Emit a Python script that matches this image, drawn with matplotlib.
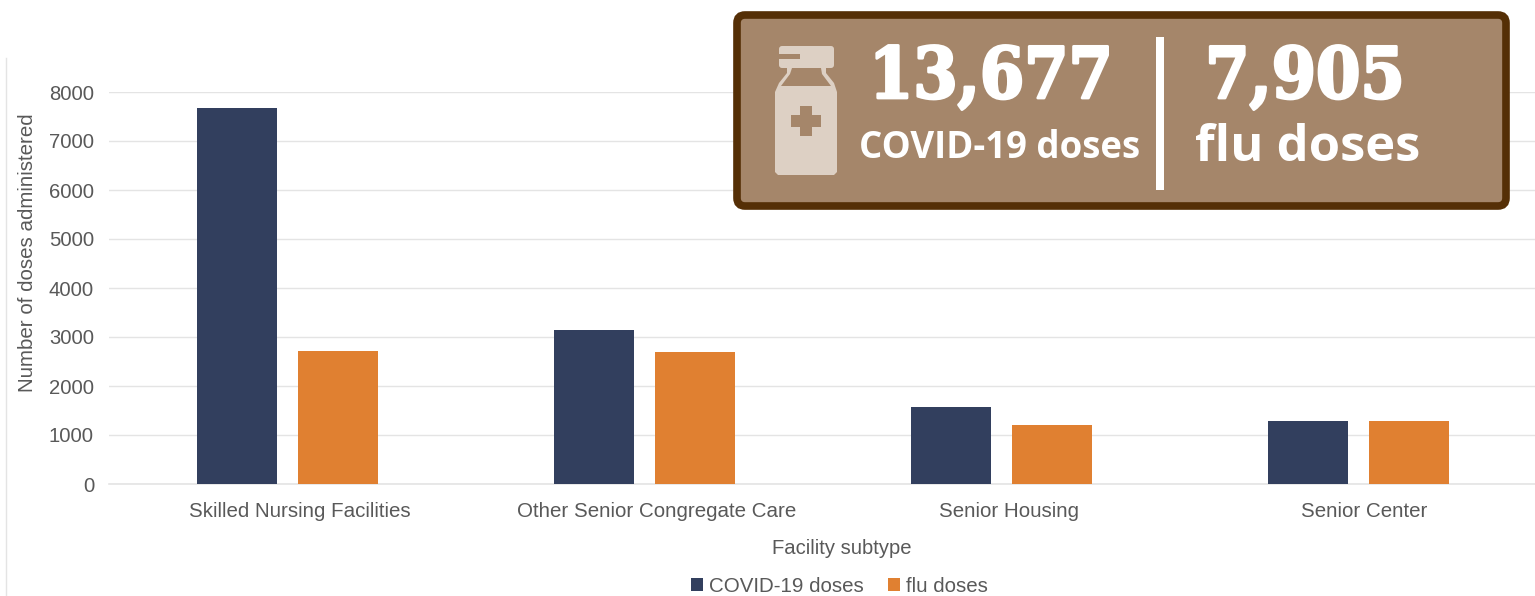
import matplotlib
matplotlib.use("Agg")
import matplotlib.pyplot as plt
import matplotlib.patheffects as pe
import numpy as np
from matplotlib.patches import FancyBboxPatch, Polygon, Rectangle

# data
categories = ["Skilled Nursing Facilities", "Other Senior Congregate Care", "Senior Housing", "Senior Center"]
covid_doses = [7675, 3143, 1570, 1289]
flu_doses = [2714, 2694, 1204, 1293]
y_ticks = [0, 1000, 2000, 3000, 4000, 5000, 6000, 7000, 8000]
covid_total = "13,677"
flu_total = "7,905"

W, H = 1535, 596
grey = "#595959"
navy = "#323F5E"
orange = "#E08031"
plt.rcParams["font.family"] = ["Liberation Sans", "DejaVu Sans"]

fig = plt.figure(figsize=(W / 100, H / 100), dpi=100)
ax = fig.add_axes([109 / W, 1 - 484 / H, (W - 109) / W, (484 - 92) / H])

x = np.arange(len(categories))
step = 357
barwidth = 80 / step
gap = 101.5 / step
ax.bar(x - gap / 2, covid_doses, barwidth, color=navy, label="COVID-19 doses", zorder=3)
ax.bar(x + gap / 2, flu_doses, barwidth, color=orange, label="flu doses", zorder=3)

ax.set_xlim(-0.5, (W - 109) / step - 0.5)
ax.set_ylim(0, 8000)
ax.set_yticks(y_ticks)
# the labels in the original sit a bit right of the bar pairs
ax.set_xticks(x + np.array([0.034, 0.035, 0.021, 0.017]))
ax.set_xticklabels(categories)
ax.tick_params(axis="x", length=0, pad=13, labelsize=14.8, colors=grey)
ax.tick_params(axis="y", length=0, pad=10.8, labelsize=14.6, colors=grey)
ax.grid(axis="y", color="#E4E4E4", lw=1, zorder=0)
for s in ax.spines.values():
    s.set_visible(False)
ax.spines["bottom"].set_visible(True)
ax.spines["bottom"].set_color("#E4E4E4")
ax.spines["bottom"].set_linewidth(1.2)
ax.set_axisbelow(True)

fig.text(28 / W, 1 - 253 / H, "Number of doses administered", rotation=90, ha="center", va="center",
         fontsize=14.8, color=grey)
fig.text(842 / W, 1 - 549 / H, "Facility subtype", ha="center", va="center", fontsize=14.6, color=grey)

ax.legend(loc="center", bbox_to_anchor=(839.5 / W, 1 - 586 / H), bbox_transform=fig.transFigure, ncol=2,
          frameon=False, fontsize=14.8, labelcolor=grey, handlelength=0.58, handleheight=0.58,
          handletextpad=0.3, columnspacing=1.17)

# callout drawn in pixel coordinates
ov = fig.add_axes([0, 0, 1, 1])
ov.set_xlim(0, W)
ov.set_ylim(H, 0)
ov.axis("off")
ov.patch.set_alpha(0)

ov.plot([6, 6], [58, 596], color="#E4E4E4", lw=1)
ov.add_patch(FancyBboxPatch((737, 15), 769, 191, boxstyle="round,pad=0,rounding_size=8",
                            fc="#A5866A", ec="#552F06", lw=5.5))

vial = "#DDD0C4"
brown = "#A5866A"
ov.add_patch(FancyBboxPatch((779, 46), 55, 22, boxstyle="round,pad=0,rounding_size=3", fc=vial, ec="none"))
ov.add_patch(Rectangle((779, 54), 21, 5, fc=brown, ec="none"))
ov.add_patch(Polygon([(787, 66), (826, 66), (826, 73), (834, 83), (837, 92), (837, 172), (834, 175), (778, 175),
                      (775, 172), (775, 92), (779, 83), (787, 73)], fc=vial, ec="none"))
ov.add_patch(Polygon([(792, 68), (821, 68), (822, 74), (831, 86), (781, 86), (790, 74)], fc=brown, ec="none"))
ov.add_patch(Rectangle((800, 106), 12, 30, fc=brown, ec="none"))
ov.add_patch(Rectangle((791, 115), 30, 12, fc=brown, ec="none"))

ov.add_patch(Rectangle((1156, 37), 8, 153, fc="white", ec="none"))

big = dict(ha="center", va="baseline", color="white", fontsize=51, fontweight="bold",
           family=["DejaVu Serif Condensed", "DejaVu Serif"], stretch="condensed",
           path_effects=[pe.withStroke(linewidth=2, foreground="white")])
ov.text(991, 98, covid_total, **big)
ov.text(1305, 98, flu_total, **big)
ov.text(1000, 158, "COVID-19 doses", ha="center", va="baseline", color="white", fontsize=26.4, fontweight="bold",
        family="Open Sans")
ov.text(1308, 161, "flu doses", ha="center", va="baseline", color="white", fontsize=36.5, fontweight="bold",
        family="Open Sans")

plt.savefig("out.png", dpi=100)
